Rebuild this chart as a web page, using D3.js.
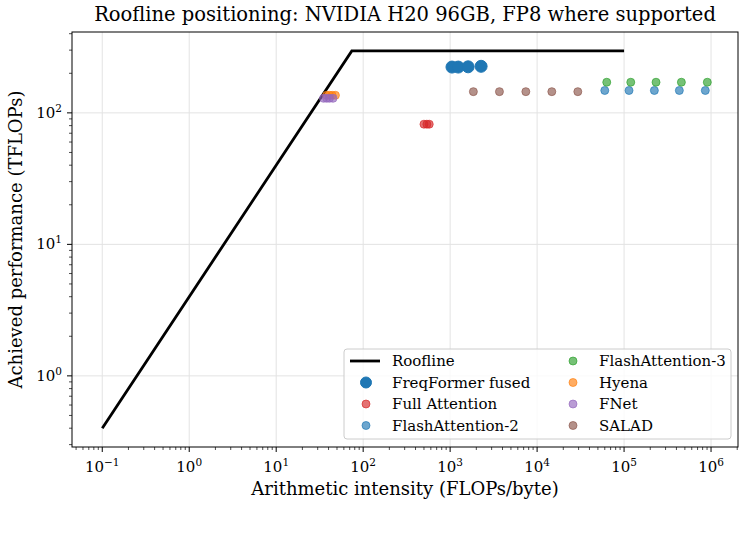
<!DOCTYPE html>
<html><head><meta charset="utf-8">
<script src="https://cdn.jsdelivr.net/npm/d3@7"></script>
<style>body{margin:0;background:#fff}svg{display:block}text{font-family:"DejaVu Serif",serif;fill:#000}</style>
</head><body><svg id="c" width="745" height="551"></svg>
<script>
// ---- data ----
const peakTFLOPs = 296;      // H20 FP8 peak
const bandwidthTBs = 4.0;    // HBM bandwidth
const rooflineX = [0.1, 74, 100000];
const freqformerX = [1050, 1240, 1610, 2270];
const freqformerY = [223, 223, 224, 226];
const fullAttnX = [500, 540, 575];
const fullAttnY = [82, 82, 82];
const fa2X = [60000, 114000, 223000, 432000, 859000];
const fa2Y = [148, 148, 148, 148, 148];
const fa3X = [63200, 119400, 233000, 456000, 906000];
const fa3Y = [171, 171, 171, 171, 171];
const hyenaX = [38, 41, 44, 48];
const hyenaY = [136, 136, 136, 136];
const fnetX = [35, 38, 41, 45];
const fnetY = [129, 129, 129, 129];
const saladX = [1850, 3690, 7420, 14760, 29380];
const saladY = [145, 145, 145, 145, 145];
const xTickExp = [-1, 0, 1, 2, 3, 4, 5, 6];
const yTickExp = [0, 1, 2];
const titleText = "Roofline positioning: NVIDIA H20 96GB, FP8 where supported";
const xLabel = "Arithmetic intensity (FLOPs/byte)";
const yLabel = "Achieved performance (TFLOPs)";

const series = [
  {name:"FreqFormer fused", x:freqformerX, y:freqformerY, color:"#1f77b4", r:6, op:1},
  {name:"Full Attention", x:fullAttnX, y:fullAttnY, color:"#d62728", r:4, op:0.65},
  {name:"FlashAttention-2", x:fa2X, y:fa2Y, color:"#1f77b4", r:4, op:0.65},
  {name:"FlashAttention-3", x:fa3X, y:fa3Y, color:"#2ca02c", r:4, op:0.65},
  {name:"Hyena", x:hyenaX, y:hyenaY, color:"#ff7f0e", r:4, op:0.65},
  {name:"FNet", x:fnetX, y:fnetY, color:"#9467bd", r:4, op:0.65},
  {name:"SALAD", x:saladX, y:saladY, color:"#8c564b", r:4, op:0.65}
];

const L=72, R=738, T=32, B=447;
const svg = d3.select("#c");
const x = d3.scaleLog().domain([Math.pow(10,-1.348), Math.pow(10,6.31)]).range([L,R]);
const y = d3.scaleLog().domain([Math.pow(10,-0.541), Math.pow(10,2.615)]).range([B,T]);

// grid
const g = svg.append("g");
xTickExp.forEach(e=>{ const px=x(Math.pow(10,e)); g.append("line").attr("x1",px).attr("x2",px).attr("y1",T).attr("y2",B).attr("stroke","#e3e3e3").attr("stroke-width",1);});
yTickExp.forEach(e=>{ const py=y(Math.pow(10,e)); g.append("line").attr("x1",L).attr("x2",R).attr("y1",py).attr("y2",py).attr("stroke","#e3e3e3").attr("stroke-width",1);});

// roofline
const roof = rooflineX.map(v=>[v, Math.min(peakTFLOPs, bandwidthTBs*v)]);
svg.append("path").attr("d", d3.line().x(d=>x(d[0])).y(d=>y(d[1]))(roof))
  .attr("fill","none").attr("stroke","#000").attr("stroke-width",2.8).attr("stroke-linejoin","miter");

// points
series.forEach(s=>{
  svg.append("g").selectAll("circle").data(s.x.map((v,i)=>[v,s.y[i]])).join("circle")
    .attr("cx",d=>x(d[0])).attr("cy",d=>y(d[1])).attr("r",s.r)
    .attr("fill",s.color).attr("fill-opacity",s.op)
    .attr("stroke",s.color).attr("stroke-opacity",s.op).attr("stroke-width",1);
});

// axes: spines
svg.append("rect").attr("x",L).attr("y",T).attr("width",R-L).attr("height",B-T).attr("fill","none").attr("stroke","#000").attr("stroke-width",1);

// ticks
const [xd0,xd1]=x.domain();
for(let e=-2;e<=7;e++){
  for(let m=1;m<10;m++){
    const v=m*Math.pow(10,e); if(v<xd0||v>xd1) continue;
    const px=x(v), len = m===1?5:3;
    svg.append("line").attr("x1",px).attr("x2",px).attr("y1",B).attr("y2",B+len).attr("stroke","#000").attr("stroke-width", m===1?1:0.7);
  }
}
const [yd0,yd1]=y.domain();
for(let e=-2;e<=3;e++){
  for(let m=1;m<10;m++){
    const v=m*Math.pow(10,e); if(v<yd0||v>yd1) continue;
    const py=y(v), len = m===1?5:3;
    svg.append("line").attr("x1",L-len).attr("x2",L).attr("y1",py).attr("y2",py).attr("stroke","#000").attr("stroke-width", m===1?1:0.7);
  }
}
function supLabel(sel, e){
  sel.append("tspan").text("10");
  sel.append("tspan").attr("dy",-6).attr("font-size","10.5px").text(e<0?"\u2212"+(-e):String(e));
}
xTickExp.forEach(e=>{
  const t=svg.append("text").attr("x",x(Math.pow(10,e))).attr("y",472).attr("text-anchor","middle").attr("font-size","15px");
  supLabel(t,e);
});
yTickExp.forEach(e=>{
  const t=svg.append("text").attr("x",62).attr("y",y(Math.pow(10,e))+5).attr("text-anchor","end").attr("font-size","15px");
  supLabel(t,e);
});

// labels
svg.append("text").attr("x",(L+R)/2+0).attr("y",495).attr("text-anchor","middle").attr("font-size","18px").text(xLabel);
svg.append("text").attr("transform",`translate(22,${(T+B)/2}) rotate(-90)`).attr("text-anchor","middle").attr("font-size","18px").text(yLabel);
svg.append("text").attr("x",(L+R)/2).attr("y",21).attr("text-anchor","middle").attr("font-size","19.5px").text(titleText);

// legend
const lg = svg.append("g");
lg.append("rect").attr("x",344).attr("y",349).attr("width",387).attr("height",90).attr("rx",3)
  .attr("fill","#fff").attr("fill-opacity",0.8).attr("stroke","#ccc").attr("stroke-width",1);
const rows=[361,382.5,404,425.5];
const items=[{name:"Roofline",line:true}].concat(series);
items.forEach((it,i)=>{
  const col=Math.floor(i/4), row=i%4;
  const hx = col===0?366:573, tx = col===0?392:599, cy=rows[row];
  if(it.line){
    lg.append("line").attr("x1",hx-16).attr("x2",hx+14).attr("y1",cy).attr("y2",cy).attr("stroke","#000").attr("stroke-width",2.8);
  } else {
    lg.append("circle").attr("cx",hx).attr("cy",cy).attr("r",it.r===6?5.5:4)
      .attr("fill",it.color).attr("fill-opacity",it.op).attr("stroke",it.color).attr("stroke-opacity",it.op);
  }
  lg.append("text").attr("x",tx).attr("y",cy+5).attr("font-size","15px").text(it.name);
});
</script></body></html>
